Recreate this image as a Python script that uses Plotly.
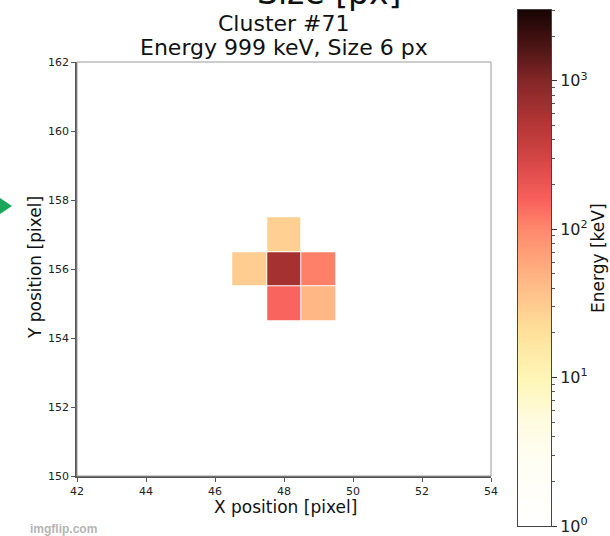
import numpy as np
import plotly.graph_objects as go

# ---- data ----
x_pix = [47, 48, 49]
y_pix = [155, 156, 157]
energy_keV = [
    [None, 150, 45],    # y = 155
    [30, 636, 110],     # y = 156
    [None, 28, None],   # y = 157
]
x_ticks = [42, 44, 46, 48, 50, 52, 54]
y_ticks = [150, 152, 154, 156, 158, 160, 162]
cbar_decades = [0, 1, 2, 3]
cbar_labels = ["10<sup>0</sup>", "10<sup>1</sup>", "10<sup>2</sup>", "10<sup>3</sup>"]
e_min, e_max = 1.0, 3000.0

# ---- styling ----
FONT = "DejaVu Sans"
W, H = 610, 536
ML, MR, MT, MB = 77, 59, 10, 10
PW, PH = W - ML - MR, H - MT - MB


def px(xp):
    return (xp - ML) / PW


def py(yp):
    return (H - MB - yp) / PH


colorscale = [
    [0.0, "#ffffff"],
    [0.12, "#fffef4"],
    [0.2, "#fffbe0"],
    [0.287, "#fff6b6"],
    [0.38, "#ffdf9a"],
    [0.457, "#ffc089"],
    [0.52, "#ffa27a"],
    [0.576, "#ff886c"],
    [0.632, "#f8605c"],
    [0.71, "#d44646"],
    [0.787, "#b03434"],
    [0.862, "#842727"],
    [0.93, "#4c1414"],
    [1.0, "#180404"],
]

zlog = [[None if v is None else np.log10(v) for v in row] for row in energy_keV]
zmax = np.log10(e_max)
zmin = np.log10(e_min)

fig = go.Figure()
fig.add_trace(go.Heatmap(
    x=x_pix, y=y_pix, z=zlog, zmin=zmin, zmax=zmax,
    colorscale=colorscale, showscale=False, xgap=1, ygap=1,
    xaxis="x", yaxis="y", hoverinfo="skip",
))

# manual colorbar
cb_vals = np.linspace(zmin, zmax, 400)
fig.add_trace(go.Heatmap(
    x=[0.5], y=cb_vals, z=[[v] for v in cb_vals], zmin=zmin, zmax=zmax,
    colorscale=colorscale, showscale=False, xaxis="x2", yaxis="y2",
    hoverinfo="skip",
))

minor_vals = []
for d in range(0, 4):
    for k in range(2, 10):
        v = k * 10 ** d
        if v <= e_max:
            minor_vals.append(float(np.log10(v)))

fig.update_layout(
    width=W, height=H,
    margin=dict(l=ML, r=MR, t=MT, b=MB, autoexpand=False),
    paper_bgcolor="white", plot_bgcolor="white",
    font=dict(family=FONT, color="#222"),
    showlegend=False,
    xaxis=dict(
        domain=[0, 414 / PW], range=[42, 54], anchor="y", automargin=False,
        tickvals=x_ticks, ticks="outside", ticklen=4, tickcolor="#555",
        tickfont=dict(size=11, color="#222"), showgrid=False, zeroline=False,
        showline=True, linecolor="#555", linewidth=1.5,
    ),
    yaxis=dict(
        domain=[py(476), py(62)], range=[150, 162], anchor="x", automargin=False,
        tickvals=y_ticks, ticks="outside", ticklen=4, tickcolor="#555",
        tickfont=dict(size=11, color="#222"), showgrid=False, zeroline=False,
        showline=True, linecolor="#555", linewidth=1.5,
    ),
    xaxis2=dict(
        domain=[px(518), 1], range=[0, 1], anchor="y2", automargin=False,
        showticklabels=False, ticks="", showgrid=False, zeroline=False,
        showline=True, mirror=True, linecolor="#444", linewidth=1,
    ),
    yaxis2=dict(
        domain=[0, 1], range=[zmin, zmax], anchor="x2", side="right", automargin=False,
        tickvals=cbar_decades, ticktext=cbar_labels, ticks="outside",
        ticklen=5, tickcolor="#333", tickfont=dict(size=16, color="#222"),
        showgrid=False, zeroline=False, showline=True, mirror=True,
        linecolor="#444", linewidth=1,
        minor=dict(tickmode="array", tickvals=minor_vals, ticks="outside",
                   ticklen=3, tickcolor="#555", showgrid=False),
    ),
)

# top/right frame of the main axes (lighter)
fig.add_shape(type="rect", xref="x domain", yref="y domain", x0=0, x1=1, y0=0, y1=1,
              line=dict(color="#9a9a9a", width=1), layer="above")

ann = [
    dict(text="Size [px]", x=px(329), y=py(-7), size=33),
    dict(text="Cluster #71", x=px(284), y=py(23), size=22),
    dict(text="Energy 999 keV, Size 6 px", x=px(284), y=py(47), size=22),
    dict(text="X position [pixel]", x=px(285), y=py(507), size=17),
]
for a in ann:
    fig.add_annotation(text=a["text"], x=a["x"], y=a["y"], xref="paper", yref="paper",
                       xanchor="center", yanchor="middle", showarrow=False,
                       font=dict(size=a["size"], family=FONT, color="#111"))

fig.add_annotation(text="Y position [pixel]", x=px(35), y=py(268), xref="paper", yref="paper",
                   textangle=-90, xanchor="center", yanchor="middle", showarrow=False,
                   font=dict(size=17, family=FONT, color="#111"))
fig.add_annotation(text="Energy [keV]", x=px(598), y=py(258), xref="paper", yref="paper",
                   textangle=-90, xanchor="center", yanchor="middle", showarrow=False,
                   font=dict(size=17, family=FONT, color="#111"))
fig.add_annotation(text="<b>imgflip.com</b>", x=px(63), y=py(529), xref="paper", yref="paper",
                   xanchor="center", yanchor="middle", showarrow=False,
                   font=dict(size=12, family="Liberation Sans", color="#b5b5b5"))

# green marker arrow at left edge
fig.add_shape(type="path", xref="paper", yref="paper",
              path=f"M {px(0)},{py(198)} L {px(12)},{py(206)} L {px(0)},{py(214)} Z",
              fillcolor="#19a85a", line=dict(width=0))

fig.write_html("out.html")
